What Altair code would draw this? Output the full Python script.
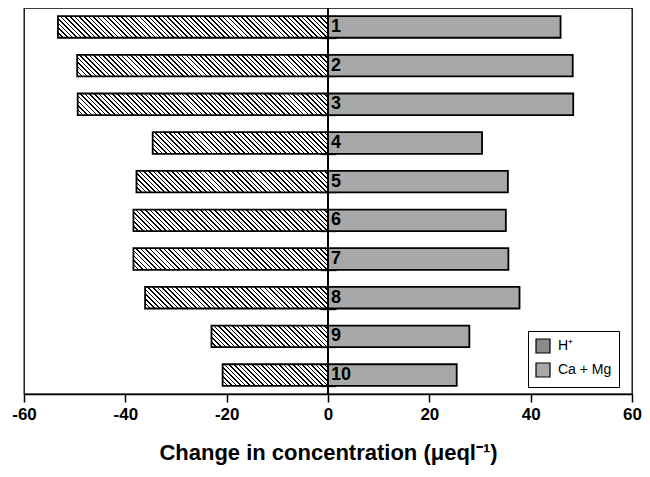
import altair as alt
import pandas as pd

# ---- data ----
sites = [1, 2, 3, 4, 5, 6, 7, 8, 9, 10]
h_plus = [-53.3, -49.5, -49.4, -34.6, -37.8, -38.4, -38.4, -36.1, -23.0, -20.8]
ca_mg = [45.9, 48.3, 48.4, 30.4, 35.5, 35.1, 35.6, 37.8, 27.9, 25.4]
series_names = ["H\u207a", "Ca + Mg"]
x_ticks = [-60, -40, -20, 0, 20, 40, 60]

# ---- layout / style ----
W_PLOT, H_PLOT = 608, 386
PX_PER_UNIT = W_PLOT / 120.0
BAR_H = 21.6
FONT = "Liberation Sans, Arial, sans-serif"
DOT_GRAY = "#a8a8a8"

rows = []
for s, h, c in zip(sites, h_plus, ca_mg):
    rows.append({"site": s, "series": series_names[0], "val": h})
    rows.append({"site": s, "series": series_names[1], "val": c})
df = pd.DataFrame(rows)
sites_df = pd.DataFrame({"site": sites})


def stripe_stops(n, dark, light, duty):
    stops = []
    for k in range(n):
        a = k / n
        b = (k + duty) / n
        e = (k + 1) / n
        stops += [
            {"offset": a, "color": dark},
            {"offset": b, "color": dark},
            {"offset": b, "color": light},
            {"offset": e, "color": light},
        ]
    return stops


def hatch_gradient(w, h, period=4.6):
    a = (w + h) / (w * w + h * h)
    n = max(2, round((w + h) / period))
    return {
        "gradient": "linear",
        "x1": 0, "y1": 1, "x2": a * w, "y2": 1 - a * h,
        "stops": stripe_stops(n, "black", "white", 0.34),
    }


y_enc = alt.Y(
    "site:O",
    sort=sites,
    scale=alt.Scale(paddingInner=0.44, paddingOuter=0.21),
    axis=alt.Axis(
        title=None, labels=False, domain=False, tickBand="extent",
        tickSize=16, tickWidth=1.3, tickColor="black", offset=-(W_PLOT / 2 + 8),
    ),
)
x_enc = alt.X(
    "val:Q",
    scale=alt.Scale(domain=[-60, 60], nice=False, zero=False),
    axis=alt.Axis(
        values=x_ticks, title="Change in concentration (\u03bceql\u207b\u00b9)",
        grid=False, tickSize=8, tickWidth=1.5, tickColor="black",
        domainColor="black", domainWidth=1.5,
        labelFont=FONT, labelFontSize=17, labelFontWeight="bold", labelColor="black",
        labelPadding=4, labelFlush=False, labelExpr="'' + datum.value",
        titleFont=FONT, titleFontSize=22, titleFontWeight="bold", titleColor="black",
        titlePadding=20,
    ),
)

legend = alt.Legend(
    title=None, orient="none", legendX=504, legendY=323,
    symbolType="square", symbolSize=196, symbolStrokeColor="black",
    symbolStrokeWidth=1.2, symbolOpacity=1, labelFont=FONT, labelFontSize=14,
    labelColor="black", labelOffset=7, rowPadding=4, padding=7,
    strokeColor="black", fillColor="white",
)

base = alt.Chart(df).mark_bar(size=BAR_H).encode(
    y=y_enc,
    x=x_enc,
    x2=alt.datum(0),
    fill=alt.Fill(
        "series:N",
        sort=series_names,
        scale=alt.Scale(domain=series_names, range=["#8a8a8a", DOT_GRAY]),
        legend=legend,
    ),
)

layers = [base]
for s, h in zip(sites, h_plus):
    wh = abs(h) * PX_PER_UNIT
    layers.append(
        alt.Chart(df)
        .transform_filter((alt.datum.site == s) & (alt.datum.series == series_names[0]))
        .mark_bar(size=BAR_H, fill=hatch_gradient(wh, BAR_H))
        .encode(y=alt.Y("site:O", sort=sites), x="val:Q", x2=alt.datum(0))
    )

outline = alt.Chart(df).mark_bar(
    size=BAR_H, fill="transparent", stroke="black", strokeWidth=1.8
).encode(y=alt.Y("site:O", sort=sites), x="val:Q", x2=alt.datum(0))
layers.append(outline)

zero_line = alt.Chart(sites_df).mark_rule(color="black", strokeWidth=1.5).encode(
    x=alt.datum(0), y=alt.value(0), y2=alt.value(H_PLOT)
)
layers.append(zero_line)

labels = alt.Chart(sites_df).mark_text(
    align="left", baseline="middle", dx=3, font=FONT, fontSize=18,
    fontWeight="bold", color="black",
).encode(y=alt.Y("site:O", sort=sites), x=alt.datum(0), text="site:N")
layers.append(labels)

chart = alt.layer(*layers).properties(
    width=W_PLOT, height=H_PLOT,
    padding={"left": 16, "top": 0, "right": 10, "bottom": 74},
    autosize=alt.AutoSizeParams(type="none"),
).configure_view(stroke="black", strokeWidth=1.3)

chart.save("out.html", embed_options={"renderer": "svg", "actions": False})
